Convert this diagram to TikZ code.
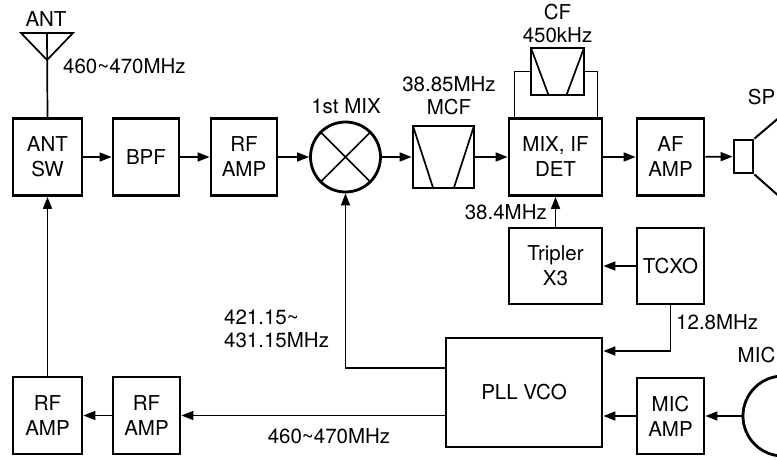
\documentclass[tikz,border=0pt]{standalone}
\usepackage{fontspec}
\setmainfont{TeX Gyre Heros}
\usetikzlibrary{arrows.meta,calc}

\tikzset{
  blk/.style={draw, line width=2.8pt, align=center, inner sep=0pt,
    minimum width=67pt, minimum height=77pt},
  filt/.style={blk, path picture={
    \draw[line width=1.7pt]
      (path picture bounding box.north west) --
      ($(path picture bounding box.south west)!0.33!(path picture bounding box.south east)$)
      (path picture bounding box.north east) --
      ($(path picture bounding box.south west)!0.67!(path picture bounding box.south east)$);}},
  mixer/.style={draw, circle, line width=2.8pt, inner sep=0pt, minimum size=70pt},
  lbl/.style={align=center, inner sep=0pt, font=\fontsize{20.5}{23}\selectfont},
  conn/.style={line width=1.7pt},
  sig/.style={conn, -{Triangle[length=12pt,width=9pt]}}
}

\begin{document}
\begin{tikzpicture}[x=1pt,y=-1pt,font=\fontsize{20.5}{25}\selectfont]

\clip (0,0) rectangle (777,460);

% receive chain
\node[blk, minimum width=69pt] (antsw) at (47.5,157) {ANT\\SW};
\node[blk, minimum width=66pt] (bpf) at (146,157) {BPF};
\node[blk, minimum width=66pt] (rfamp) at (244,157) {RF\\AMP};
\node[mixer] (mix) at (345.5,157) {};
\node[filt, minimum width=61pt, minimum height=62pt] (mcf) at (443.5,157) {};
\node[blk, minimum width=93pt] (det) at (555.5,157) {MIX, IF\\DET};
\node[filt, minimum width=53pt, minimum height=47pt] (cf) at (557.5,71.5) {};
\node[blk] (afamp) at (670.5,157) {AF\\AMP};
\node[draw, line width=2.8pt, inner sep=0pt, minimum width=19pt, minimum height=33pt] (sp) at (743.5,156.5) {};

% local oscillator and transmit chain
\node[blk, minimum width=93pt, minimum height=76pt] (trip) at (555.5,266) {Tripler\\X3};
\node[blk, minimum height=76pt] (tcxo) at (670.5,266) {TCXO};
\node[blk, minimum width=156pt, minimum height=109pt] (pll) at (524,392.5) {PLL VCO};
\node[blk, minimum height=76pt] (micamp) at (670.5,416) {MIC\\AMP};
\node[blk, minimum width=69pt] (rfb1) at (47.5,415.5) {RF\\AMP};
\node[blk] (rfb2) at (146.5,415.5) {RF\\AMP};

% labels
\node[lbl] (antlbl) at (46,19) {ANT};
\node[lbl, anchor=west] (rxband) at (63,66) {460\textasciitilde470MHz};
\node[lbl] (mixlbl) at (346,106) {1st MIX};
\node[lbl] (mcflbl) at (449,96) {38.85MHz\\MCF};
\node[lbl] (cflbl) at (557.5,23.5) {CF\\450kHz};
\node[lbl, anchor=east] (splbl) at (775.5,97.5) {SP};
\node[lbl, anchor=east] (reflbl) at (547,212) {38.4MHz};
\node[lbl, align=left, anchor=west] (lolbl) at (224,329) {421.15\textasciitilde\\431.15MHz};
\node[lbl, anchor=west] (xtallbl) at (676,322) {12.8MHz};
\node[lbl, anchor=east] (miclbl) at (775.5,355) {MIC};
\node[lbl] (txband) at (329,436.5) {460\textasciitilde470MHz};

% antenna
\coordinate (anttip) at (47,60);
\coordinate (anttop) at (47,33);
\draw[conn] (21,33) -- (73,33) -- (anttip) -- cycle;
\draw[conn] (anttop) -- (antsw.north);

% mixer cross
\draw[conn] (mix.north west) -- (mix.south east) (mix.north east) -- (mix.south west);

% speaker cone and microphone
\draw[line width=2pt] (sp.north east) -- (781,116) (sp.south east) -- (781,198);
\coordinate (mic) at (743,416);
\draw[line width=2.8pt] (783,416) circle[radius=40pt];

% connections
\path[sig] (antsw) edge (bpf) (bpf) edge (rfamp) (rfamp) edge (mix)
  (mix) edge (mcf) (mcf) edge (det) (det) edge (afamp) (afamp) edge (sp);
\draw[conn] (cf.west) -| ([xshift=7pt]det.north west);
\draw[conn] (cf.east) -| ([xshift=-6pt]det.north east);
\draw[sig] (trip) -- (det);
\draw[sig] (tcxo) -- (trip);
\draw[sig] (tcxo.south) |- ([yshift=41.5pt]pll.east);
\draw[sig] (mic) -- (micamp);
\draw[sig] (micamp.west) -- (micamp.west -| pll.east);
\draw[sig] ([yshift=24.5pt]pll.west) -| (mix.south);
\draw[sig] (pll.west |- rfb2) -- (rfb2);
\draw[sig] (rfb2) -- (rfb1);
\draw[sig] (rfb1) -- (antsw);

\end{tikzpicture}
\end{document}
